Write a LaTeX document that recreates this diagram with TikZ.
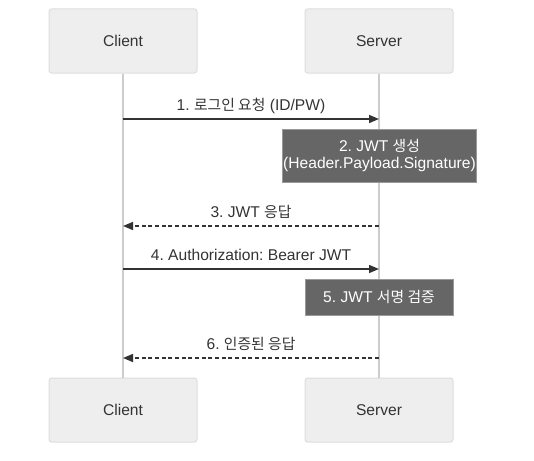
\documentclass[tikz,border=0pt]{standalone}
\usepackage{fontspec}
\setmainfont{Liberation Sans}
\newfontfamily\kr{Noto Sans CJK KR}[Scale=0.95]
\usetikzlibrary{arrows.meta}
\frenchspacing

\definecolor{boxfill}{HTML}{EEEEEE}
\definecolor{boxline}{HTML}{DDDDDD}
\definecolor{lifeline}{HTML}{CCCCCC}
\definecolor{ink}{HTML}{333333}
\definecolor{notefill}{HTML}{666666}
\definecolor{noteline}{HTML}{999999}

\tikzset{
  actor/.style={draw=boxline, fill=boxfill, rounded corners=2pt, line width=0.75pt,
    minimum width=111pt, minimum height=48pt, text=ink, inner sep=0pt},
  note/.style={draw=noteline, fill=notefill, line width=0.75pt, text=white,
    inner sep=0pt, align=center},
  msg/.style={draw=ink, line width=1.1pt, -{Triangle[length=7.5pt,width=6pt]}},
  reply/.style={msg, densely dashed},
  lbl/.style={midway, anchor=base, yshift=6.75pt, text=ink, inner sep=0pt}
}

\begin{document}
\begin{tikzpicture}[x=0.75pt, y=-0.75pt, font=\fontsize{11.7}{13.5}\selectfont]
\useasboundingbox (0,0) rectangle (534,460);

% participants
\node[actor] (client) at (123,41) {\raisebox{-1pt}{Client}};
\node[actor] (server) at (379,41) {\raisebox{-1pt}{Server}};
\node[actor] (clientb) at (123,410) {\raisebox{-1pt}{Client}};
\node[actor] (serverb) at (379,410) {\raisebox{-1pt}{Server}};

% lifelines
\draw[lifeline, line width=0.9pt] (client) -- (clientb);
\draw[lifeline, line width=0.9pt] (server) -- (serverb);

% message ends
\coordinate (c1) at (123,119);
\coordinate (s1) at (379,119);
\coordinate (c3) at (123,226);
\coordinate (s3) at (379,226);
\coordinate (c4) at (123,269);
\coordinate (s4) at (379,269);
\coordinate (c6) at (123,358);
\coordinate (s6) at (379,358);

\draw[msg] (c1) -- (s1) node[lbl] {1. {\kr 로그인 요청} (ID/PW)};

\node[note, minimum width=145.5pt, minimum height=39.75pt] (n2) at (379.5,155.5)
  {2. JWT {\kr 생성}\\[-1pt](Header.Payload.Signature)};

\draw[reply] (s3) -- (c3) node[lbl] {3. JWT {\kr 응답}};

\draw[msg] (c4) -- (s4) node[lbl] {4. Authorization: Bearer JWT};

\node[note, minimum width=111pt, minimum height=27pt] (n5) at (379,297)
  {5. JWT {\kr 서명 검증}};

\draw[reply] (s6) -- (c6) node[lbl] {6. {\kr 인증된 응답}};

\end{tikzpicture}
\end{document}
